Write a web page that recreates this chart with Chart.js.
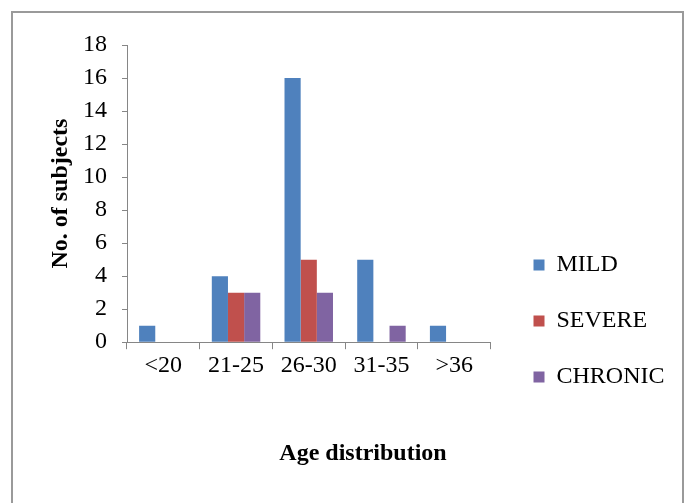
<!DOCTYPE html>
<html>
<head>
<meta charset="utf-8">
<title>Age distribution</title>
<script src="https://cdn.jsdelivr.net/npm/chart.js@4/dist/chart.umd.min.js"></script>
<style>
  html, body { margin: 0; padding: 0; background: #fff; overflow: hidden; }
  #wrap { position: relative; width: 690px; height: 503px; }
  #frame {
    position: absolute; left: 11px; top: 11px; width: 669px; height: 600px;
    border: 2px solid #9a9a9a; box-sizing: content-box;
  }
  #chart { position: absolute; left: 0; top: 0; }
</style>
</head>
<body>
<div id="wrap">
  <div id="frame"></div>
  <canvas id="chart" width="690" height="503"></canvas>
</div>
<script>
// Age groups and subject counts per severity
const categories = ['<20', '21-25', '26-30', '31-35', '>36'];
const mild = [1, 4, 16, 5, 1];
const severe = [0, 3, 5, 0, 0];
const chronic = [0, 3, 3, 1, 0];
const seriesNames = ['MILD', 'SEVERE', 'CHRONIC'];
const yMin = 0, yMax = 18, yStep = 2;

const serif = "'Liberation Serif', 'Times New Roman', serif";
const axisGray = '#868686';
const legendGap = 11;   // space between plot edge and legend keys
const titleShift = 24;  // bottom title sits a little right of the canvas centre

// keeps the legend keys clear of the plot and moves the bottom title over
const boxNudge = {
  id: 'boxNudge',
  afterLayout(chart) {
    const lg = chart.legend;
    if (lg) {
      const dx = chart.chartArea.right + legendGap - lg.left;
      lg.left += dx;
      lg.right = chart.width;
      lg.width = lg.right - lg.left;
    }
    const t = chart.titleBlock;
    if (t) {
      t.left += titleShift;
      t.right += titleShift;
    }
  }
};

new Chart(document.getElementById('chart'), {
  type: 'bar',
  data: {
    labels: categories,
    datasets: [
      { label: seriesNames[0], data: mild, backgroundColor: '#4F81BD' },
      { label: seriesNames[1], data: severe, backgroundColor: '#C0504D' },
      { label: seriesNames[2], data: chronic, backgroundColor: '#8064A2' }
    ]
  },
  options: {
    responsive: false,
    animation: false,
    devicePixelRatio: 1,
    layout: { padding: { left: 36, top: 45, right: 48, bottom: 0 } },
    datasets: { bar: { categoryPercentage: 0.667, barPercentage: 1.0 } },
    scales: {
      x: {
        grid: { drawOnChartArea: false, drawTicks: true, tickLength: 7, color: axisGray, offset: true },
        border: { color: axisGray, width: 1 },
        ticks: { color: '#000', padding: 2, font: { family: serif, size: 24 } },
        afterFit(s) { s.height = 87; }
      },
      y: {
        min: yMin, max: yMax,
        grid: { drawOnChartArea: false, drawTicks: true, tickLength: 5, color: axisGray },
        border: { color: axisGray, width: 1 },
        ticks: { stepSize: yStep, color: '#000', padding: 15, font: { family: serif, size: 24 } },
        title: {
          display: true, text: 'No. of subjects', color: '#000',
          font: { family: serif, size: 24, weight: 'bold' },
          padding: { top: 10, bottom: 0 }
        },
        afterFit(s) { s.width = 91; }
      }
    },
    plugins: {
      tooltip: { enabled: false },
      title: {
        display: true, position: 'bottom', text: 'Age distribution', color: '#000',
        font: { family: serif, size: 24, weight: 'bold' },
        padding: { top: 10, bottom: 35 }
      },
      legend: {
        position: 'right', align: 'center',
        labels: {
          boxWidth: 11, boxHeight: 11, padding: 32, color: '#000',
          font: { family: serif, size: 24 }
        },
        title: { display: true, text: '', padding: { top: 84, bottom: 0 }, font: { size: 10, lineHeight: 1 } }
      }
    }
  },
  plugins: [boxNudge]
});
</script>
</body>
</html>
